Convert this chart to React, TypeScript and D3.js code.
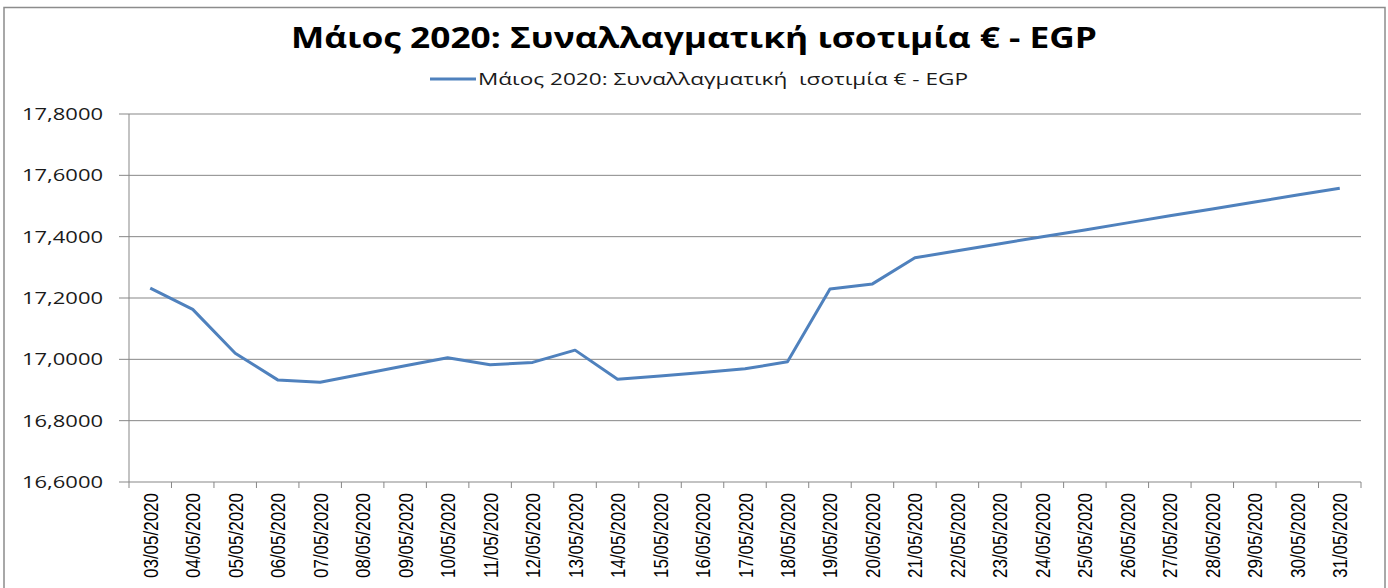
import React from "react";
import * as d3 from "d3";

const title = "Μάιος 2020: Συναλλαγματική ισοτιμία € - EGP";
const seriesName = "Μάιος 2020: Συναλλαγματική  ισοτιμία € - EGP";

const dates = [
  "03/05/2020", "04/05/2020", "05/05/2020", "06/05/2020", "07/05/2020",
  "08/05/2020", "09/05/2020", "10/05/2020", "11/05/2020", "12/05/2020",
  "13/05/2020", "14/05/2020", "15/05/2020", "16/05/2020", "17/05/2020",
  "18/05/2020", "19/05/2020", "20/05/2020", "21/05/2020", "22/05/2020",
  "23/05/2020", "24/05/2020", "25/05/2020", "26/05/2020", "27/05/2020",
  "28/05/2020", "29/05/2020", "30/05/2020", "31/05/2020",
];

const rates = [
  17.232, 17.163, 17.020, 16.933, 16.925,
  16.952, 16.979, 17.005, 16.982, 16.990,
  17.030, 16.935, 16.946, 16.957, 16.969,
  16.992, 17.229, 17.246, 17.331, 17.354,
  17.377, 17.400, 17.422, 17.445, 17.468,
  17.490, 17.513, 17.536, 17.558,
];

const yTicks = [16.6, 16.8, 17.0, 17.2, 17.4, 17.6, 17.8];

const W = 1388;
const H = 588;
const plot = { left: 129, right: 1361, top: 114, bottom: 482 };

export default function App() {
  const x = d3.scaleBand<string>().domain(dates).range([plot.left, plot.right]).padding(0);
  const y = d3.scaleLinear().domain([16.6, 17.8]).range([plot.bottom, plot.top]);
  const line = d3
    .line<number>()
    .x((_, i) => (x(dates[i]) as number) + x.bandwidth() / 2)
    .y((d) => y(d));
  const fmt = (v: number) => v.toFixed(4).replace(".", ",");
  const gridColor = "#878787";
  const boundaries = dates.map((d) => x(d) as number).concat([plot.right]);

  return (
    <svg
      width={W}
      height={H}
      style={{ position: "absolute", left: 0, top: 0, background: "#fff" }}
    >
      <rect x={0} y={0} width={W} height={H} fill="#fff" />
      <rect x={4} y={7.5} width={1381} height={600} fill="#fff" stroke="#8c8c8c" strokeWidth={1.5} />
      <text
        x={694}
        y={48}
        textAnchor="middle"
        fontFamily="'Open Sans', sans-serif"
        fontWeight="bold"
        fontSize={28}
        textLength={806}
        lengthAdjust="spacingAndGlyphs"
        fill="#000"
      >
        {title}
      </text>
      <line x1={430} x2={476} y1={79} y2={79} stroke="#4F81BD" strokeWidth={3} />
      <text
        x={478}
        y={85}
        fontFamily="'Open Sans', sans-serif"
        fontSize={16}
        textLength={490}
        lengthAdjust="spacingAndGlyphs"
        fill="#1a1a1a"
        style={{ whiteSpace: "pre" }}
      >
        {seriesName}
      </text>
      {yTicks.map((t) => (
        <g key={t}>
          <line x1={plot.left} x2={plot.right} y1={y(t)} y2={y(t)} stroke={gridColor} strokeWidth={1} />
          <line x1={plot.left - 10} x2={plot.left} y1={y(t)} y2={y(t)} stroke={gridColor} strokeWidth={1} />
          <text
            x={103}
            y={y(t) + 6}
            textAnchor="end"
            fontFamily="'Open Sans', sans-serif"
            fontSize={16}
            textLength={81}
            lengthAdjust="spacingAndGlyphs"
            fill="#1a1a1a"
          >
            {fmt(t)}
          </text>
        </g>
      ))}
      <line x1={plot.left} x2={plot.left} y1={plot.top} y2={plot.bottom} stroke={gridColor} strokeWidth={1} />
      {boundaries.map((bx, i) => (
        <line key={i} x1={bx} x2={bx} y1={plot.bottom} y2={plot.bottom + 6} stroke={gridColor} strokeWidth={1} />
      ))}
      {dates.map((d) => {
        const cx = (x(d) as number) + x.bandwidth() / 2;
        return (
          <text
            key={d}
            transform={`translate(${cx + 7.5},${493}) rotate(-90)`}
            textAnchor="end"
            fontFamily="'Liberation Sans', Arial, sans-serif"
            fontSize={21}
            textLength={85}
            lengthAdjust="spacingAndGlyphs"
            fill="#000"
          >
            {d}
          </text>
        );
      })}
      <path d={line(rates) as string} fill="none" stroke="#4F81BD" strokeWidth={3} strokeLinejoin="round" />
    </svg>
  );
}
